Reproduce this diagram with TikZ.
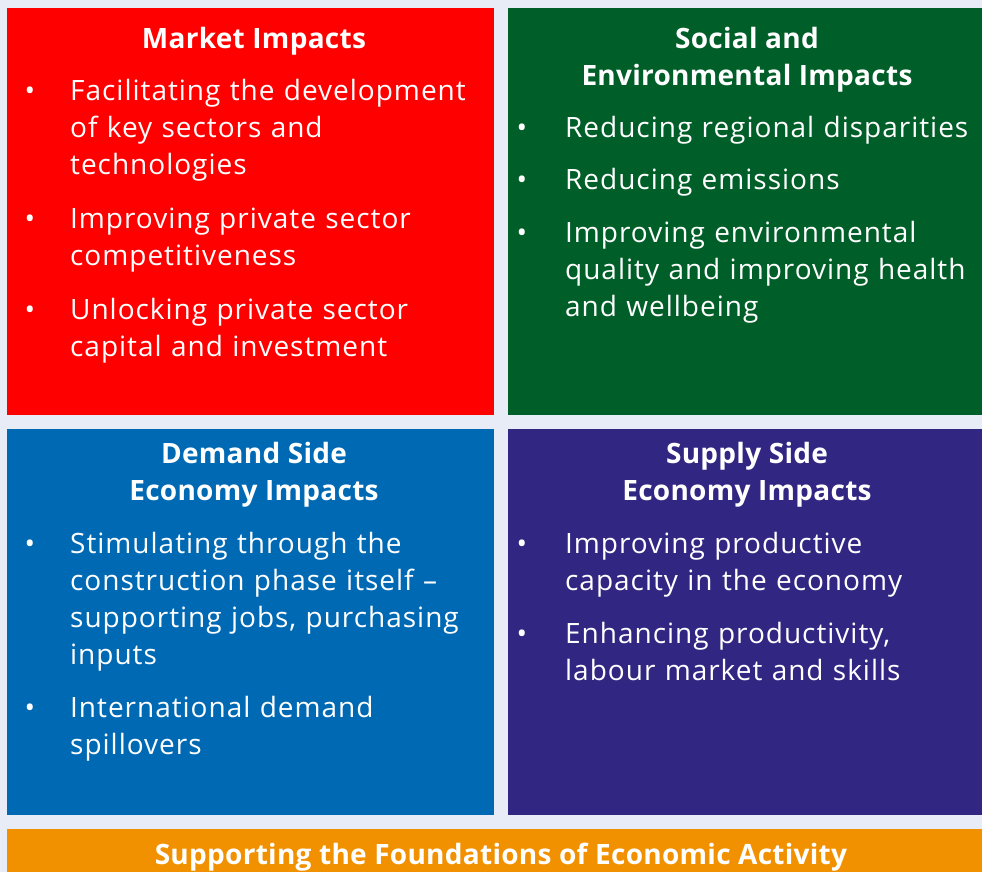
\documentclass[tikz,border=0pt]{standalone}
\usepackage{fontspec}
\setmainfont{Open Sans}[LetterSpace=3.5, BoldFeatures={LetterSpace=1}]
\usetikzlibrary{positioning}

\definecolor{pagebg}{RGB}{232,236,247}
\definecolor{marketred}{RGB}{255,0,0}
\definecolor{socialgreen}{RGB}{0,95,40}
\definecolor{demandblue}{RGB}{0,105,180}
\definecolor{supplyviolet}{RGB}{49,39,130}
\definecolor{baseorange}{RGB}{242,145,0}

\newcommand{\panelfont}{\fontsize{28}{37}\selectfont}
\newcommand{\dotfont}{\fontsize{28}{37}\selectfont}

\tikzset{
  heading/.style={anchor=north, align=center, text=white, inner sep=0pt, font=\panelfont\bfseries},
  point/.style={anchor=north west, align=left, text=white, inner sep=0pt, text width=440pt, font=\panelfont},
  dot/.style={anchor=north, text=white, inner sep=0pt, font=\dotfont}
}

\begin{document}
\begin{tikzpicture}[x=1pt,y=-1pt]
	\useasboundingbox (0,0) rectangle (982,872);
	\fill[pagebg] (0,0) rectangle (982,872);
	% the four panels and the base bar
	\fill[marketred] (7,8) rectangle (494,415);
	\fill[socialgreen] (508,8) rectangle (982,415);
	\fill[demandblue] (7,429) rectangle (494,815);
	\fill[supplyviolet] (508,429) rectangle (982,815);
	\fill[baseorange] (7,829) rectangle (982,872);

	% market impacts
	\node[heading] (mhead) at (254,22) {\strut Market Impacts\strut};
	\node[point] (m1) at (70,74) {\strut Facilitating the development\\ of key sectors and\\ technologies\strut};
	\node[point, below=17pt of m1.south west, anchor=north west] (m2) {\strut Improving private sector\\ competitiveness\strut};
	\node[point, below=17pt of m2.south west, anchor=north west] (m3) {\strut Unlocking private sector\\ capital and investment\strut};
	\node[dot] (m1d) at ([xshift=-40pt]m1.north west) {\strut\textbullet};
	\node[dot] (m2d) at ([xshift=-40pt]m2.north west) {\strut\textbullet};
	\node[dot] (m3d) at ([xshift=-40pt]m3.north west) {\strut\textbullet};

	% social and environmental impacts
	\node[heading] (shead) at (747,22) {\strut Social and\\ Environmental Impacts\strut};
	\node[point] (s1) at (565,111) {\strut Reducing regional disparities\strut};
	\node[point, below=15pt of s1.south west, anchor=north west] (s2) {\strut Reducing emissions\strut};
	\node[point, below=16pt of s2.south west, anchor=north west] (s3) {\strut Improving environmental\\ quality and improving health\\ and wellbeing\strut};
	\node[dot] (s1d) at ([xshift=-43pt]s1.north west) {\strut\textbullet};
	\node[dot] (s2d) at ([xshift=-43pt]s2.north west) {\strut\textbullet};
	\node[dot] (s3d) at ([xshift=-43pt]s3.north west) {\strut\textbullet};

	% demand side
	\node[heading] (dhead) at (254,437) {\strut Demand Side\\ Economy Impacts\strut};
	\node[point] (d1) at (70,527) {\strut Stimulating through the\\ construction phase itself –\\ supporting jobs, purchasing\\ inputs\strut};
	\node[point, below=16pt of d1.south west, anchor=north west] (d2) {\strut International demand\\ spillovers\strut};
	\node[dot] (d1d) at ([xshift=-40pt]d1.north west) {\strut\textbullet};
	\node[dot] (d2d) at ([xshift=-40pt]d2.north west) {\strut\textbullet};

	% supply side
	\node[heading] (phead) at (747,437) {\strut Supply Side\\ Economy Impacts\strut};
	\node[point] (p1) at (565,527) {\strut Improving productive\\ capacity in the economy\strut};
	\node[point, below=16pt of p1.south west, anchor=north west] (p2) {\strut Enhancing productivity,\\ labour market and skills\strut};
	\node[dot] (p1d) at ([xshift=-43pt]p1.north west) {\strut\textbullet};
	\node[dot] (p2d) at ([xshift=-43pt]p2.north west) {\strut\textbullet};

	% base bar
	\node[heading, anchor=base, font=\panelfont\bfseries\addfontfeatures{LetterSpace=2}] (base) at (501,864) {Supporting the Foundations of Economic Activity};
\end{tikzpicture}
\end{document}
